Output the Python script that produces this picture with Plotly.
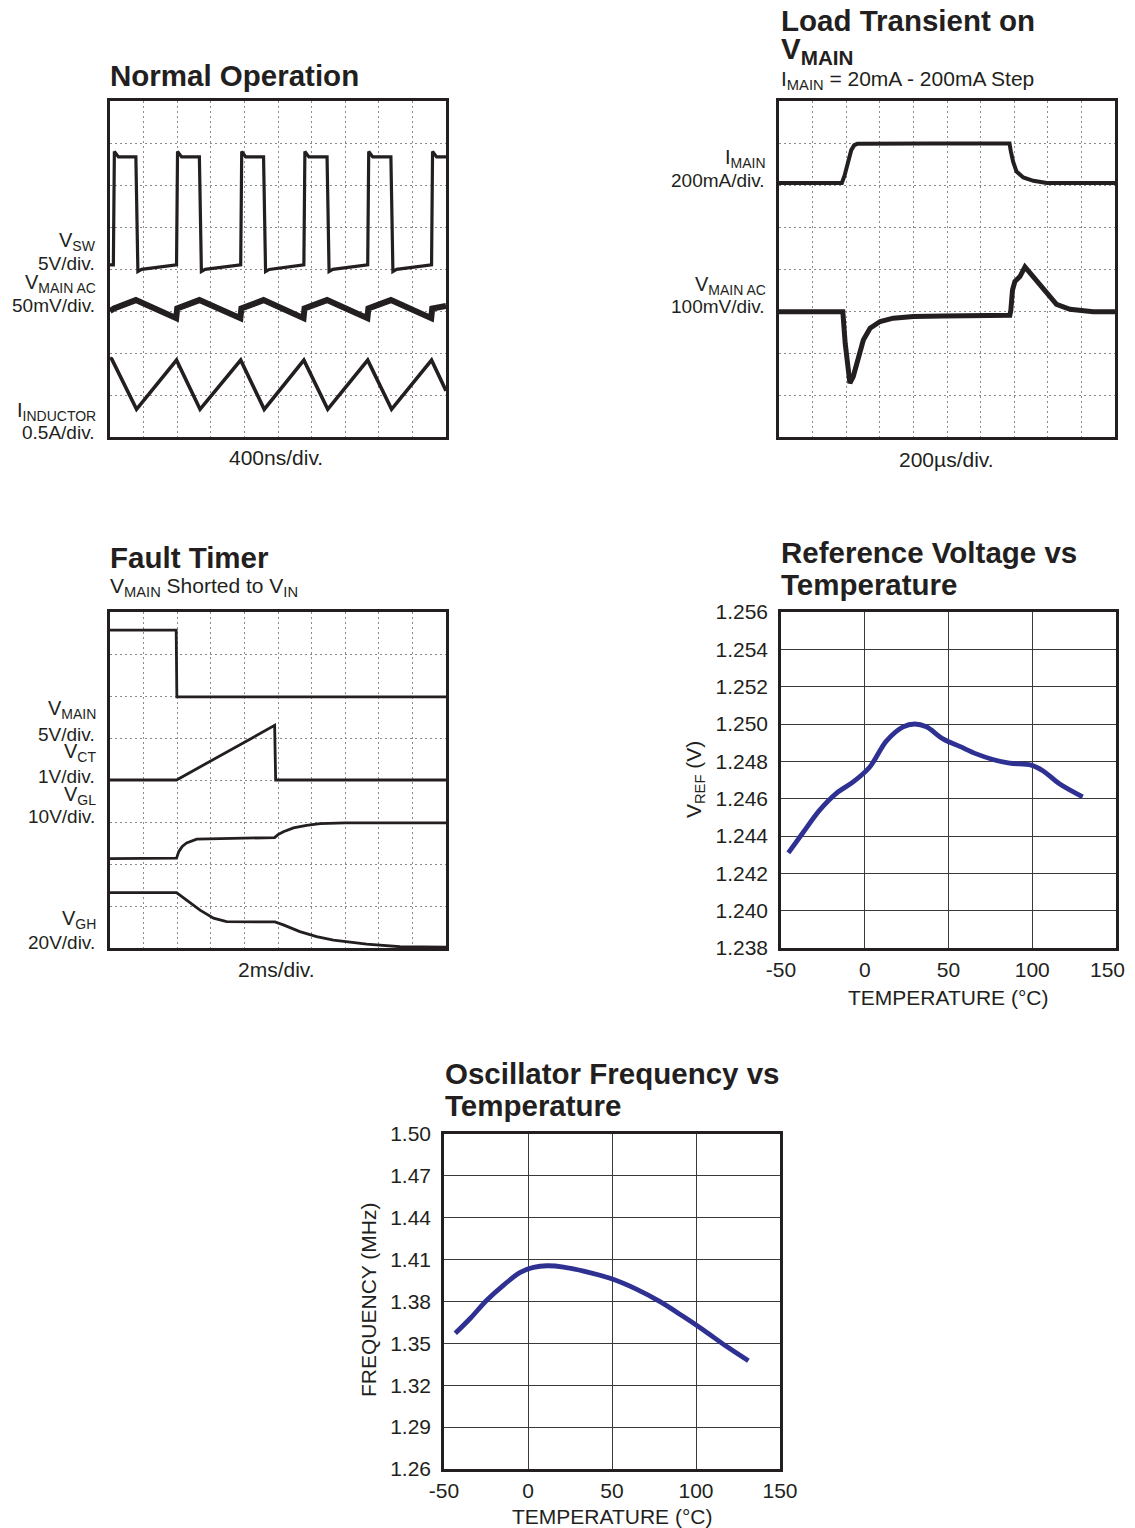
import plotly.graph_objects as go

# page geometry: the page body has an 8px margin, so the figure is offset by 8px
PAGE_W, PAGE_H = 1135, 1528
OFF = 8
FW, FH = PAGE_W - OFF, PAGE_H - OFF
VISIBLE_RIGHT = 1127   # rightmost page pixel that is drawn in the screenshot
FONT = "Liberation Sans, Arial, Helvetica, sans-serif"
INK = "#231f20"
BLUE = "#2e3192"

# ---------------- data (scope panels in divisions: x 0..10, y 0..8) ----------------
# Panel 1 - Normal Operation
vsw_rise = [0.10, 1.98, 3.89, 5.77, 7.67, 9.57]
vsw_fall = [0.79, 2.68, 4.59, 6.48, 8.38]
vsw_high = [6.80, 6.67]      # just after rising edge, settled
vsw_low = [3.94, 4.10]       # just after falling edge, before rising edge

ripple_x = [0.00, 0.12, 0.77, 1.97, 2.00, 2.66, 3.88, 3.91, 4.57, 5.76, 5.79, 6.46, 7.66, 7.69, 8.36, 9.56, 9.59, 10.0]
ripple_y = [3.00, 3.06, 3.26, 2.83, 3.06, 3.26, 2.83, 3.06, 3.26, 2.83, 3.06, 3.26, 2.83, 3.06, 3.26, 2.83, 3.06, 3.12]

ind_x = [0.00, 0.05, 0.79, 1.98, 2.68, 3.89, 4.59, 5.77, 6.48, 7.67, 8.38, 9.57, 10.0]
ind_y = [1.88, 1.86, 0.66, 1.83, 0.66, 1.83, 0.66, 1.83, 0.66, 1.83, 0.66, 1.83, 1.10]

# Panel 2 - Load Transient on VMAIN
imain_x = [0.00, 1.87, 1.95, 2.05, 2.15, 2.24, 2.33, 4.50, 6.86, 6.90, 6.97, 7.07, 7.27, 7.57, 7.97, 10.0]
imain_y = [6.05, 6.05, 6.22, 6.55, 6.83, 6.95, 6.98, 6.99, 6.99, 6.80, 6.55, 6.32, 6.18, 6.10, 6.05, 6.05]

vmac_x = [0.00, 1.90, 1.97, 2.06, 2.11, 2.21, 2.36, 2.51, 2.71, 3.01, 3.40, 4.00, 4.90, 6.87,
          6.90, 6.95, 7.02, 7.17, 7.32, 7.47, 7.67, 7.97, 8.26, 8.66, 9.35, 10.0]
vmac_y = [2.98, 2.98, 2.23, 1.44, 1.28, 1.44, 1.91, 2.31, 2.59, 2.75, 2.83, 2.87, 2.88, 2.90,
          3.02, 3.50, 3.70, 3.82, 4.05, 3.91, 3.74, 3.42, 3.16, 3.04, 2.98, 2.98]

# Panel 3 - Fault Timer
fvmain_x = [0.00, 1.97, 1.99, 10.0]
fvmain_y = [7.57, 7.57, 5.98, 5.98]

vct_x = [0.00, 1.98, 4.90, 4.93, 10.0]
vct_y = [4.00, 4.00, 5.30, 4.00, 4.00]

vgl_x = [0.00, 1.98, 2.05, 2.15, 2.28, 2.45, 2.58, 4.90, 5.00, 5.16, 5.46, 5.85, 6.25, 7.00, 10.0]
vgl_y = [2.13, 2.14, 2.30, 2.42, 2.50, 2.56, 2.59, 2.63, 2.70, 2.77, 2.86, 2.92, 2.96, 2.98, 2.98]

vgh_x = [0.00, 1.98, 2.28, 2.68, 3.08, 3.47, 4.91, 5.16, 5.65, 6.15, 6.65, 7.64, 8.63, 10.0]
vgh_y = [1.32, 1.32, 1.14, 0.90, 0.71, 0.63, 0.62, 0.55, 0.39, 0.27, 0.19, 0.09, 0.03, 0.02]

# Panel 4 - Reference Voltage vs Temperature
ref_temp = [-45.6, -36.7, -26.8, -16.8, -6.9, 3.0, 13.0, 22.9, 29.8, 36.8, 46.7, 56.7, 66.6, 76.5, 86.4, 99.4, 106.3, 116.2, 130.1]
ref_v = [1.2431, 1.2442, 1.2454, 1.2463, 1.2469, 1.2477, 1.2491, 1.24985, 1.2500, 1.24985, 1.2492, 1.2488, 1.2484, 1.2481, 1.2479, 1.2478, 1.2475, 1.2468, 1.2461]
ref_yticks = [1.238, 1.240, 1.242, 1.244, 1.246, 1.248, 1.250, 1.252, 1.254, 1.256]
ref_yticktext = ["1.238", "1.240", "1.242", "1.244", "1.246", "1.248", "1.250", "1.252", "1.254", "1.256"]

# Panel 5 - Oscillator Frequency vs Temperature
osc_temp = [-43.3, -34.3, -24.4, -14.5, -4.6, 3.3, 11.3, 21.2, 33.1, 48.9, 64.8, 78.6, 92.5, 104.4, 118.3, 131.2]
osc_f = [1.3572, 1.3680, 1.3811, 1.3918, 1.4009, 1.4044, 1.4056, 1.4047, 1.4018, 1.3966, 1.3887, 1.3799, 1.3692, 1.3596, 1.3477, 1.3375]
osc_yticks = [1.26, 1.29, 1.32, 1.35, 1.38, 1.41, 1.44, 1.47, 1.50]
osc_yticktext = ["1.26", "1.29", "1.32", "1.35", "1.38", "1.41", "1.44", "1.47", "1.50"]

temp_ticks = [-50, 0, 50, 100, 150]
temp_ticktext = ["-50", "0", "50", "100", "150"]

# ---------------- build VSW polyline from edge data ----------------
vsw_x, vsw_y = [0.0], [vsw_low[1]]
for i, r in enumerate(vsw_rise):
    vsw_x += [r, r + 0.03, r + 0.15]
    vsw_y += [vsw_low[1], vsw_high[0], vsw_high[1]]
    if i < len(vsw_fall):
        f = vsw_fall[i]
        vsw_x += [f - 0.02, f + 0.04, f + 0.15]
        vsw_y += [vsw_high[1], vsw_low[0], vsw_low[0] + 0.05]
vsw_x.append(10.0)
vsw_y.append(vsw_high[1])


def xdom(a, b):
    return [(a - OFF) / FW, (b - OFF) / FW]


def ydom(top, bottom):
    return [1 - (bottom - OFF) / FH, 1 - (top - OFF) / FH]


def scope_axes(xd, yd, xa, ya):
    common = dict(showgrid=True, griddash="1.5px,3.5px", gridcolor="#8a8a8a", gridwidth=1,
                  showticklabels=False, ticks="", zeroline=False, showline=True,
                  mirror=True, linecolor=INK, linewidth=2.5, fixedrange=True,
                  layer="below traces", automargin=False)
    x = dict(domain=xd, range=[0, 10], tick0=0, dtick=1, anchor=ya, **common)
    y = dict(domain=yd, range=[0, 8], tick0=0, dtick=1, anchor=xa, **common)
    return x, y


def graph_axes(xd, yd, xa, ya, yr, yticks, yticktext, xticktext):
    common = dict(showgrid=True, gridcolor="#3a3a3a", gridwidth=1.3, zeroline=False,
                  showline=True, mirror=True, linecolor=INK, linewidth=2.5, ticks="",
                  tickfont=dict(family=FONT, size=21, color=INK), fixedrange=True,
                  automargin=False)
    x = dict(domain=xd, range=[-50, 150], tickvals=temp_ticks, ticktext=xticktext,
             anchor=ya, ticklabelstandoff=1, **common)
    y = dict(domain=yd, range=yr, tickvals=yticks, ticktext=yticktext, anchor=xa,
             ticklabelstandoff=6, **common)
    return x, y


fig = go.Figure()


def line(x, y, ax, width, color=INK, shape="linear"):
    n = "" if ax == 1 else str(ax)
    fig.add_trace(go.Scatter(x=x, y=y, mode="lines", xaxis="x" + n, yaxis="y" + n,
                             line=dict(color=color, width=width, shape=shape),
                             hoverinfo="skip", showlegend=False))


# Panel 1
line(vsw_x, vsw_y, 1, 3.2)
line(ripple_x, ripple_y, 1, 6)
line(ind_x, ind_y, 1, 3.6)
# Panel 2
line(imain_x, imain_y, 2, 4)
line(vmac_x, vmac_y, 2, 5)
# Panel 3
line(fvmain_x, fvmain_y, 3, 2.8)
line(vct_x, vct_y, 3, 2.8)
line(vgl_x, vgl_y, 3, 2.8)
line(vgh_x, vgh_y, 3, 2.8)
# Panel 4 / 5
line(ref_temp, ref_v, 4, 4.8, BLUE, "spline")
line(osc_temp, osc_f, 5, 4.8, BLUE, "spline")

layout = dict(width=FW, height=FH, margin=dict(l=0, r=0, t=0, b=0, autoexpand=False),
              paper_bgcolor="white", plot_bgcolor="white", showlegend=False,
              font=dict(family=FONT, color=INK))

# the last tick label of panel 4 sits at the window's right edge: draw it as an
# annotation pulled just inside the visible area
p4_xticktext = temp_ticktext[:-1] + [""]

x1, y1 = scope_axes(xdom(110, 446), ydom(101, 437), "x", "y")
x2, y2 = scope_axes(xdom(779, 1115), ydom(101, 437), "x2", "y2")
x3, y3 = scope_axes(xdom(110, 446), ydom(612, 948), "x3", "y3")
x4, y4 = graph_axes(xdom(781, 1116), ydom(612, 948), "x4", "y4", [1.238, 1.256],
                    ref_yticks, ref_yticktext, p4_xticktext)
x5, y5 = graph_axes(xdom(444, 780), ydom(1134, 1469), "x5", "y5", [1.26, 1.50],
                    osc_yticks, osc_yticktext, temp_ticktext)
layout.update(xaxis=x1, yaxis=y1, xaxis2=x2, yaxis2=y2, xaxis3=x3, yaxis3=y3,
              xaxis4=x4, yaxis4=y4, xaxis5=x5, yaxis5=y5)


def ann(text, x, y, size=19, xanchor="left", angle=0):
    return dict(text=text, x=(x - OFF) / FW, y=1 - (y - OFF) / FH, xref="paper", yref="paper",
                showarrow=False, xanchor=xanchor, yanchor="middle", textangle=angle,
                align="right" if xanchor == "right" else "left",
                font=dict(family=FONT, size=size, color=INK))


anns = [
    # titles
    ann("<b>Normal Operation</b>", 108, 75, 29.5),
    ann("<b>Load Transient on</b>", 779, 21, 29.5),
    ann("<b>V<sub>MAIN</sub></b>", 779, 50, 29.5),
    ann("I<sub>MAIN</sub> = 20mA - 200mA Step", 779, 80, 21),
    ann("<b>Fault Timer</b>", 108, 557, 29.5),
    ann("V<sub>MAIN</sub> Shorted to V<sub>IN</sub>", 108, 587, 21),
    ann("<b>Reference Voltage vs</b>", 779, 552, 29.5),
    ann("<b>Temperature</b>", 779, 584, 29.5),
    ann("<b>Oscillator Frequency vs</b>", 443, 1073, 29.5),
    ann("<b>Temperature</b>", 443, 1105, 29.5),
    # panel 1 channel labels
    ann("V<sub>SW</sub>", 98, 242, 20, "right"),
    ann("5V/div.", 97, 264, 19, "right"),
    ann("V<sub>MAIN AC</sub>", 98, 283, 20, "right"),
    ann("50mV/div.", 97, 305, 19, "right"),
    ann("I<sub>INDUCTOR</sub>", 98, 411, 20, "right"),
    ann("0.5A/div.", 97, 433, 19, "right"),
    ann("400ns/div.", 276, 458, 21, "center"),
    # panel 2 channel labels
    ann("I<sub>MAIN</sub>", 768, 158, 20, "right"),
    ann("200mA/div.", 767, 180, 19, "right"),
    ann("V<sub>MAIN AC</sub>", 768, 285, 20, "right"),
    ann("100mV/div.", 767, 307, 19, "right"),
    ann("200\u00b5s/div.", 946, 460, 21, "center"),
    # panel 3 channel labels
    ann("V<sub>MAIN</sub>", 98, 710, 20, "right"),
    ann("5V/div.", 97, 734, 19, "right"),
    ann("V<sub>CT</sub>", 98, 753, 20, "right"),
    ann("1V/div.", 97, 776, 19, "right"),
    ann("V<sub>GL</sub>", 98, 795, 20, "right"),
    ann("10V/div.", 97, 817, 19, "right"),
    ann("V<sub>GH</sub>", 98, 919, 20, "right"),
    ann("20V/div.", 97, 942, 19, "right"),
    ann("2ms/div.", 276, 969, 21, "center"),
    # panel 4 last x tick label
    ann(temp_ticktext[-1], VISIBLE_RIGHT, 969, 21, "right"),
    # graph axis titles
    ann("V<sub>REF</sub> (V)", 695, 780, 21, "center", -90),
    ann("TEMPERATURE (\u00b0C)", 948, 997, 21, "center"),
    ann("FREQUENCY (MHz)", 368, 1300, 21, "center", -90),
    ann("TEMPERATURE (\u00b0C)", 612, 1516, 21, "center"),
]
layout["annotations"] = anns

fig.update_layout(layout)
fig.write_html("out.html")
